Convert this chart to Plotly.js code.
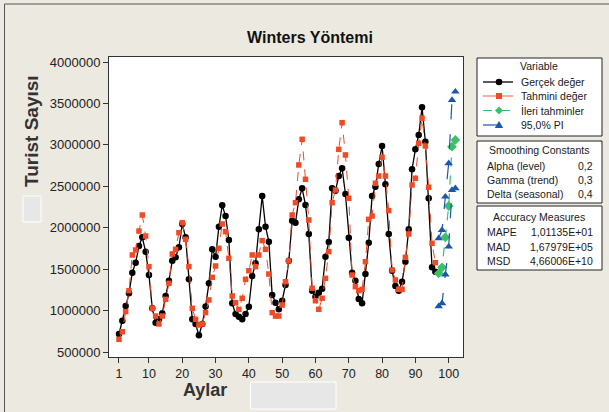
<!DOCTYPE html>
<html>
<head>
<meta charset="utf-8">
<script src="https://cdn.plot.ly/plotly-3.0.1.min.js"></script>
<style>html,body{margin:0;padding:0;background:#ECE9E0;}#chart{width:609px;height:412px;}</style>
</head>
<body>
<div id="chart"></div>
<script>
// ---- data ----
const actual = [
  717000, 878000, 1055000, 1208000, 1457000, 1578000, 1779000, 1884000, 1711000, 1429000, 1027000, 854000,
  895000, 967000, 1176000, 1361000, 1602000, 1643000, 1764000, 2045000, 1884000, 1377000, 895000, 838000,
  701000, 838000, 1050000, 1329000, 1739000, 1650000, 2012000, 2270000, 2141000, 1852000, 1088000, 959000,
  926000, 895000, 959000, 1047000, 1417000, 1570000, 1981000, 2383000, 2012000, 1832000, 1188000, 1095000,
  1015000, 1119000, 1309000, 1602000, 2085000, 2061000, 2343000, 2476000, 2274000, 1924000, 1240000, 1167000,
  1216000, 1264000, 1650000, 1828000, 2476000, 2447000, 2624000, 2717000, 2407000, 1880000, 1457000, 1361000,
  1140000, 1088000, 1441000, 1819000, 2383000, 2495000, 2769000, 2986000, 2524000, 1924000, 1480000, 1297000,
  1240000, 1349000, 1590000, 1981000, 2705000, 2946000, 3119000, 3453000, 3038000, 2355000, 1522000, 1469000
];
const fitted = [
  653000, 745000, 987000, 1240000, 1671000, 1731000, 1960000, 2153000, 1900000, 1530000, 1027000, 934000,
  838000, 934000, 1136000, 1329000, 1683000, 1739000, 1940000, 2061000, 1860000, 1530000, 1027000, 895000,
  826000, 838000, 975000, 1128000, 1401000, 1538000, 1751000, 2045000, 1952000, 1631000, 1176000, 1095000,
  1015000, 1148000, 1377000, 1481000, 1671000, 1530000, 1671000, 1844000, 1739000, 1441000, 975000, 934000,
  934000, 1067000, 1349000, 1602000, 2153000, 2302000, 2757000, 3067000, 2584000, 2093000, 1269000, 1119000,
  1015000, 1148000, 1389000, 1711000, 2302000, 2455000, 2946000, 3268000, 2878000, 2355000, 1429000, 1288000,
  1240000, 1256000, 1590000, 2101000, 2141000, 2536000, 2624000, 2850000, 2624000, 2206000, 1490000, 1369000,
  1256000, 1256000, 1643000, 1924000, 2516000, 2596000, 3019000, 3321000, 2986000, 2488000, 1812000, 1578000
];
const months = actual.map((_, i) => i + 1);
const forecastMonths = [97, 98, 99, 100, 101, 102];
const forecast = [1450000, 1522000, 1884000, 2262000, 2978000, 3059000];
const piLower = [1051000, 1087000, 1435000, 1771000, 2455000, 2476000];
const piUpper = [1872000, 1972000, 2374000, 2777000, 3541000, 3642000];

const xTicks = [1, 10, 20, 30, 40, 50, 60, 70, 80, 90, 100];
const yTicks = [500000, 1000000, 1500000, 2000000, 2500000, 3000000, 3500000, 4000000];

const seriesNames = ["Gerçek değer", "Tahmini değer", "İleri tahminler", "95,0% PI"];
const smoothingLabels = ["Alpha (level)", "Gamma (trend)", "Delta (seasonal)"];
const smoothingValues = ["0,2", "0,3", "0,4"];
const accuracyLabels = ["MAPE", "MAD", "MSD"];
const accuracyValues = ["1,01135E+01", "1,67979E+05", "4,66006E+10"];

// ---- styles ----
const BLACK = "#000000", RED = "#EF4B27", GREEN = "#3DBF68", BLUE = "#1B57AE";
const FONT = "Liberation Sans, Arial, sans-serif";

// pixel -> paper helpers (plot area 109..463 x 57..357)
const L = 109, R = 463, T = 57, B = 357;
const px = x => (x - L) / (R - L);
const py = y => (B - y) / (B - T);

const traces = [
  {x: months, y: actual, type: "scatter", mode: "lines+markers", name: seriesNames[0],
   line: {color: BLACK, width: 1.3}, marker: {symbol: "circle", size: 6.5, color: BLACK}},
  {x: months, y: fitted, type: "scatter", mode: "lines+markers", name: seriesNames[1],
   line: {color: RED, width: 1, dash: "dash"}, marker: {symbol: "square", size: 5.5, color: RED}},
  {x: forecastMonths, y: forecast, type: "scatter", mode: "lines+markers", name: seriesNames[2],
   line: {color: GREEN, width: 1.2, dash: "dash"}, marker: {symbol: "diamond", size: 7.5, color: GREEN}},
  {x: forecastMonths, y: piLower, type: "scatter", mode: "lines+markers", name: seriesNames[3],
   line: {color: BLUE, width: 1.2, dash: "longdash"}, marker: {symbol: "triangle-up", size: 7.5, color: BLUE}},
  {x: forecastMonths, y: piUpper, type: "scatter", mode: "lines+markers", name: seriesNames[3], showlegend: false,
   line: {color: BLUE, width: 1.2, dash: "longdash"}, marker: {symbol: "triangle-up", size: 7.5, color: BLUE}}
];

const annotations = [];
const shapes = [];
function txt(text, x, y, anchor, size, extra) {
  annotations.push(Object.assign({text: text, xref: "paper", yref: "paper", x: px(x), y: py(y),
    xanchor: anchor, yanchor: "middle", showarrow: false,
    font: {family: FONT, size: size, color: "#1a1a1a"}}, extra || {}));
}
function box(x0, y0, x1, y1) {
  shapes.push({type: "rect", xref: "paper", yref: "paper", x0: px(x0), x1: px(x1), y0: py(y1), y1: py(y0),
    line: {color: "#222", width: 1}, fillcolor: "white", layer: "below"});
}

// axis titles
txt("<b>Turist Sayısı</b>", 31, 131, "center", 19, {textangle: -90, font: {family: FONT, size: 19, color: "#333"}});
txt("<b>Aylar</b>", 205, 390, "center", 18, {font: {family: FONT, size: 18, color: "#333"}});

// legend box
box(477, 58, 602, 136);
txt("Variable", 539, 66.5, "center", 10.5);
const legendRows = [82, 96, 110.5, 125];
seriesNames.forEach((n, i) => txt(n, 519, legendRows[i], "left", 10.5));
// legend keys
const kx0 = 483, kx1 = 513, kc = 499;
shapes.push({type: "line", xref: "paper", yref: "paper", x0: px(kx0), x1: px(kx1), y0: py(82), y1: py(82), line: {color: BLACK, width: 1.3}});
shapes.push({type: "circle", xref: "paper", yref: "paper", x0: px(kc - 3.3), x1: px(kc + 3.3), y0: py(85.3), y1: py(78.7), line: {color: BLACK, width: 0}, fillcolor: BLACK});
shapes.push({type: "line", xref: "paper", yref: "paper", x0: px(kx0), x1: px(kx1), y0: py(96), y1: py(96), line: {color: "#F48466", width: 1.3}});
shapes.push({type: "rect", xref: "paper", yref: "paper", x0: px(kc - 3), x1: px(kc + 3), y0: py(99), y1: py(93), line: {color: RED, width: 0}, fillcolor: RED});
shapes.push({type: "line", xref: "paper", yref: "paper", x0: px(kx0), x1: px(kx1), y0: py(110.5), y1: py(110.5), line: {color: GREEN, width: 1.2, dash: "dash"}});
shapes.push({type: "path", xref: "paper", yref: "paper",
  path: `M ${px(kc - 4)} ${py(110.5)} L ${px(kc)} ${py(106.5)} L ${px(kc + 4)} ${py(110.5)} L ${px(kc)} ${py(114.5)} Z`,
  line: {color: GREEN, width: 0}, fillcolor: GREEN});
shapes.push({type: "line", xref: "paper", yref: "paper", x0: px(kx0), x1: px(kx1), y0: py(125), y1: py(125), line: {color: BLUE, width: 1.2, dash: "longdash"}});
shapes.push({type: "path", xref: "paper", yref: "paper",
  path: `M ${px(kc - 4.2)} ${py(128)} L ${px(kc)} ${py(121)} L ${px(kc + 4.2)} ${py(128)} Z`,
  line: {color: BLUE, width: 0}, fillcolor: BLUE});

// smoothing constants box
box(477, 141, 602, 203);
txt("Smoothing Constants", 539, 149.5, "center", 10.5);
const smRows = [165.5, 179.5, 193.5];
smoothingLabels.forEach((n, i) => { txt(n, 485, smRows[i], "left", 10.5); txt(smoothingValues[i], 595, smRows[i], "right", 10.5); });

// accuracy measures box
box(477, 206, 602, 270);
txt("Accuracy Measures", 539, 217, "center", 10.5);
const acRows = [232, 247, 261];
accuracyLabels.forEach((n, i) => { txt(n, 485, acRows[i], "left", 10.5); txt(accuracyValues[i], 595, acRows[i], "right", 10.5); });

// grey blocks present in the reference
shapes.push({type: "rect", xref: "paper", yref: "paper", x0: px(23), x1: px(41), y0: py(222), y1: py(196), line: {color: "white", width: 1}, fillcolor: "#E7E7E7"});
shapes.push({type: "rect", xref: "paper", yref: "paper", x0: px(250.5), x1: px(336), y0: py(409), y1: py(382), line: {color: "white", width: 1}, fillcolor: "#E7E7E7"});
// outer frame lines (left and top)
shapes.push({type: "line", xref: "paper", yref: "paper", x0: px(4.5), x1: px(4.5), y0: py(4), y1: py(412), line: {color: "#555", width: 1}});
shapes.push({type: "line", xref: "paper", yref: "paper", x0: px(4.5), x1: px(609), y0: py(4), y1: py(4), line: {color: "#555", width: 1}});

const layout = {
  width: 609, height: 412,
  paper_bgcolor: "#ECE9E0", plot_bgcolor: "#FFFFFF",
  margin: {l: L, r: 609 - R, t: T, b: 412 - B, pad: 0},
  showlegend: false,
  font: {family: FONT, color: "#1a1a1a"},
  title: {text: "<b>Winters Yöntemi</b>", x: px(310), xref: "paper", xanchor: "center",
          y: 1 - 37 / 412, yanchor: "middle", font: {family: FONT, size: 16, color: "#111"}},
  xaxis: {range: [-2.0, 104.3], tickvals: xTicks, ticks: "outside", ticklen: 5, tickcolor: "#333",
          tickfont: {size: 12.5, color: "#222"}, showgrid: false, zeroline: false,
          showline: true, mirror: true, linecolor: "#333", linewidth: 1},
  yaxis: {range: [439600, 4060345], tickvals: yTicks, tickformat: "d", ticks: "outside", ticklen: 5, tickcolor: "#333",
          tickfont: {size: 13, color: "#222"}, showgrid: false, zeroline: false,
          showline: true, mirror: true, linecolor: "#333", linewidth: 1},
  annotations: annotations,
  shapes: shapes
};

Plotly.newPlot("chart", traces, layout, {staticPlot: true, displayModeBar: false});
</script>
</body>
</html>
